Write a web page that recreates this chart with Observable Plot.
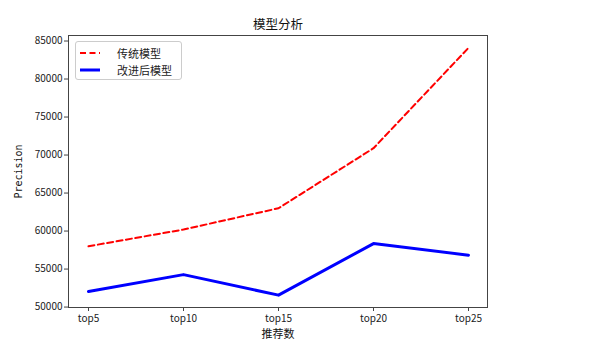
<!DOCTYPE html>
<html><head><meta charset="utf-8">
<script src="https://cdn.jsdelivr.net/npm/d3@7"></script>
<script src="https://cdn.jsdelivr.net/npm/@observablehq/plot@0.6"></script>
<style>
body{margin:0;background:#fff;font-family:"Noto Sans CJK SC","DejaVu Sans",sans-serif;}
#wrap{position:relative;width:595px;height:356px;}
#legend{position:absolute;left:75px;top:41px;width:107px;height:39px;border:1px solid #ccc;border-radius:3px;background:rgba(255,255,255,0.9);box-sizing:border-box;font-size:11px;color:#222;}
#legend .row{position:absolute;left:4px;height:14px;display:flex;align-items:center;}
#legend svg{margin-right:17px;}
</style></head>
<body><div id="wrap"><div id="chart"></div>
<div id="legend">
 <div class="row" style="top:4px"><svg width="20" height="6"><line x1="0" x2="20" y1="3" y2="3" stroke="#ff0000" stroke-width="2" stroke-dasharray="6,3.5"/></svg><span>传统模型</span></div>
 <div class="row" style="top:21px"><svg width="20" height="6"><line x1="0" x2="20" y1="3" y2="3" stroke="#0000ff" stroke-width="3"/></svg><span>改进后模型</span></div>
</div></div>
<script>
const categories = ["top5","top10","top15","top20","top25"];
const traditional = [58000, 60200, 63000, 70900, 84100];
const improved = [52050, 54270, 51570, 58350, 56830];
const yTicks = [50000,55000,60000,65000,70000,75000,80000,85000];

const tradData = categories.map((c,i)=>({c, v: traditional[i]}));
const impData = categories.map((c,i)=>({c, v: improved[i]}));

const chart = Plot.plot({
  width: 595, height: 356,
  marginLeft: 68, marginRight: 108, marginTop: 35, marginBottom: 49,
  style: {fontFamily: '"Noto Sans CJK SC","DejaVu Sans",sans-serif', fontSize: "10px", color: "#222", background: "#fff"},
  x: {type: "point", domain: categories, padding: 0.2, label: null},
  y: {domain: [49944, 85726], label: null},
  marks: [
    Plot.frame({stroke: "#444"}),
    Plot.axisX({tickSize: 4, tickPadding: 3, stroke: "#444", fill: "#222"}),
    Plot.axisY({ticks: yTicks, tickFormat: d => String(d), tickSize: 4, tickPadding: 2, stroke: "#444", fill: "#222"}),
    Plot.line(tradData, {x: "c", y: "v", stroke: "#ff0000", strokeWidth: 2, strokeDasharray: "6,3.5"}),
    Plot.line(impData, {x: "c", y: "v", stroke: "#0000ff", strokeWidth: 3}),
    Plot.text(["模型分析"], {frameAnchor: "top", dy: -15, fontSize: 12.5, fill: "#111"}),
    Plot.text(["推荐数"], {frameAnchor: "bottom", dy: 30, fontSize: 11, fill: "#111"}),
    Plot.text(["Precision"], {frameAnchor: "left", textAnchor: "middle", dx: -50, rotate: -90, fontSize: 10, fill: "#111", fontFamily: '"DejaVu Sans Mono",monospace'})
  ]
});
document.getElementById("chart").appendChild(chart);
</script></body></html>
